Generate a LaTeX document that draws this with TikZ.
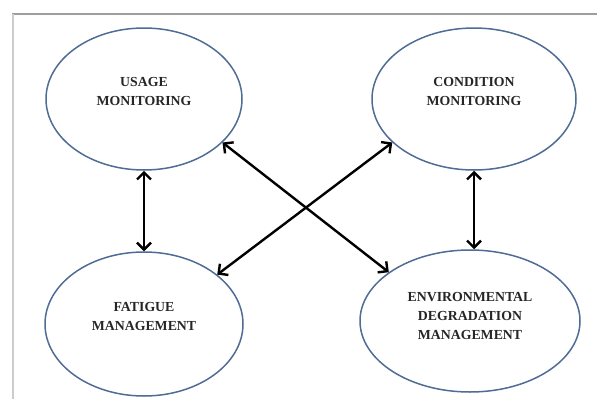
\documentclass[tikz,border=0pt]{standalone}
\usepackage{fontspec}
\setmainfont{Liberation Serif}
\usetikzlibrary{arrows.meta,shapes.geometric}
\definecolor{ovalblue}{RGB}{79,108,148}
\definecolor{framegray}{gray}{0.62}
\definecolor{lightframe}{gray}{0.80}
\definecolor{textgray}{gray}{0.15}

\begin{document}
\begin{tikzpicture}[
  x=1pt, y=-1pt,
  oval/.style={draw=ovalblue, line width=1.5pt, ellipse, inner sep=0pt},
  lbl/.style={font=\bfseries\fontsize{13.8}{19}\selectfont, text=textgray, align=center},
  arr/.style={{Straight Barb[length=7pt,width=14pt,line width=2.4pt]}-{Straight Barb[length=7pt,width=14pt,line width=2.4pt]}, line width=2.4pt, black},
]
  \useasboundingbox (0,0) rectangle (597,399);
  % frame
  \draw[framegray, line width=2pt] (12,14) -- (597,14);
  \draw[lightframe, line width=2pt] (13,14) -- (13,399);

  % ovals
  \node[oval, minimum width=196pt, minimum height=142pt] (usage) at (144,99) {};
  \node[oval, minimum width=204pt, minimum height=142pt] (condition) at (474,99) {};
  \node[oval, minimum width=198pt, minimum height=144pt] (fatigue) at (144,324) {};
  \node[oval, minimum width=220pt, minimum height=142pt] (env) at (470,321) {};

  \node[lbl] at (144,91) {USAGE\\MONITORING};
  \node[lbl] at (474,91) {CONDITION\\MONITORING};
  \node[lbl] at (144,316) {FATIGUE\\MANAGEMENT};
  \node[lbl] at (470,316) {ENVIRONMENTAL\\DEGRADATION\\MANAGEMENT};

  % links
  \draw[arr] (usage.south) -- (fatigue.north);
  \draw[arr] (condition.south) -- (env.north -| condition.south);
  \draw[arr] (usage.-29) -- (env.149);
  \draw[arr] (condition.-152) -- (fatigue.34);
\end{tikzpicture}
\end{document}
